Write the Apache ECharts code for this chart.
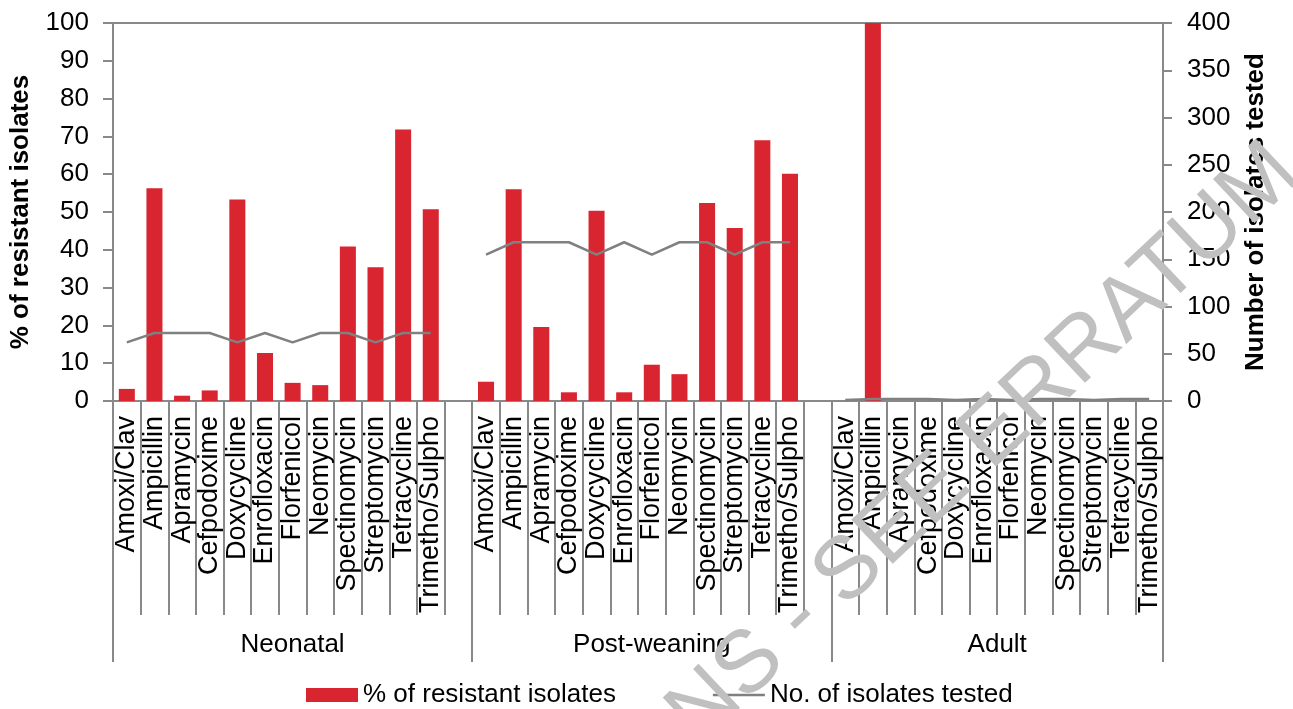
<!DOCTYPE html>
<html>
<head>
<meta charset="utf-8">
<script src="https://cdn.jsdelivr.net/npm/echarts@6/dist/echarts.min.js"></script>
<style>
html,body{margin:0;padding:0;background:#fff;}
#chart{width:1293px;height:709px;}
</style>
</head>
<body>
<div id="chart"></div>
<script>
// ---- data ----
var antibiotics = ['Amoxi/Clav','Ampicillin','Apramycin','Cefpodoxime','Doxycycline','Enrofloxacin','Florfenicol','Neomycin','Spectinomycin','Streptomycin','Tetracycline','Trimetho/Sulpho'];
var groups = ['Neonatal','Post-weaning','Adult'];
var neonatalPct    = [3.2, 56.3, 1.4, 2.8, 53.3, 12.7, 4.8, 4.2, 40.9, 35.4, 71.8, 50.7];
var postWeaningPct = [5.1, 56.0, 19.6, 2.3, 50.3, 2.3, 9.6, 7.1, 52.4, 45.8, 69.0, 60.1];
var adultPct       = [0, 100, 0, 0, 0, 0, 0, 0, 0, 0, 0, 0];
var neonatalN      = [62, 72, 72, 72, 62, 72, 62, 72, 72, 62, 72, 72];
var postWeaningN   = [155, 168, 168, 168, 155, 168, 155, 168, 168, 155, 168, 168];
var adultN         = [1, 2, 2, 2, 1, 2, 1, 2, 2, 1, 2, 2];
var leftTicks = {min: 0, max: 100, interval: 10};
var rightTicks = {min: 0, max: 400, interval: 50};

// ---- build flat category axis with a gap between groups ----
var cats = [], pct = [], num = [];
var groupBounds = [], groupCenters = [];
var pctGroups = [neonatalPct, postWeaningPct, adultPct];
var numGroups = [neonatalN, postWeaningN, adultN];
for (var g = 0; g < groups.length; g++) {
  var start = cats.length;
  groupBounds.push(start);
  for (var i = 0; i < antibiotics.length; i++) {
    cats.push(antibiotics[i]);
    pct.push(pctGroups[g][i]);
    num.push(numGroups[g][i]);
  }
  if (g < groups.length - 1) { cats.push(''); pct.push(null); num.push(null); }
  groupCenters.push((start + cats.length) / 2);
}
groupBounds.push(cats.length);

var FONT = "'Liberation Sans', Arial, sans-serif";
var GREY = '#898989';
var chart = echarts.init(document.getElementById('chart'), null, {renderer: 'canvas'});
var option = {
  animation: false,
  textStyle: {fontFamily: FONT},
  grid: {left: 110, right: 130, top: 23, bottom: 308, show: true, borderColor: GREY, borderWidth: 2},
  legend: {
    left: 301, top: 677,
    itemWidth: 52, itemHeight: 14, itemGap: 97,
    textStyle: {fontSize: 26, color: '#000', fontFamily: FONT},
    data: [
      {name: '% of resistant isolates', icon: 'rect'},
      {name: 'No. of isolates tested', icon: 'path://M0,0L52,0L52,2.5L0,2.5Z'}
    ]
  },
  xAxis: [
    {
      type: 'category', data: cats, position: 'bottom',
      axisLine: {show: true, lineStyle: {color: GREY, width: 2}},
      axisTick: {show: true, interval: 0, length: 214, lineStyle: {color: GREY, width: 2}},
      axisLabel: {interval: 0, rotate: 90, margin: 15, fontSize: 27, color: '#000', fontFamily: FONT},
      splitLine: {show: false}
    },
    {
      type: 'value', min: 0, max: cats.length, position: 'bottom',
      axisLine: {show: false},
      axisTick: {show: true, customValues: groupBounds, length: 261, inside: false, lineStyle: {color: GREY, width: 2}},
      axisLabel: {
        show: true, customValues: groupCenters, margin: 231, fontSize: 26, color: '#000', fontFamily: FONT,
        formatter: function (v) {
          for (var k = 0; k < groupCenters.length; k++) { if (Math.abs(groupCenters[k] - v) < 1e-6) return groups[k]; }
          return '';
        }
      },
      splitLine: {show: false}
    }
  ],
  yAxis: [
    {
      type: 'value', min: leftTicks.min, max: leftTicks.max, interval: leftTicks.interval, position: 'left',
      name: '% of resistant isolates', nameLocation: 'middle', nameGap: 79,
      nameTextStyle: {fontSize: 26, fontWeight: 'bold', color: '#000', fontFamily: FONT},
      axisLine: {show: true, lineStyle: {color: GREY, width: 2}},
      axisTick: {show: true, length: 10, lineStyle: {color: GREY, width: 2}},
      axisLabel: {fontSize: 26, color: '#000', margin: 24, fontFamily: FONT},
      splitLine: {show: false}
    },
    {
      type: 'value', min: rightTicks.min, max: rightTicks.max, interval: rightTicks.interval, position: 'right',
      name: 'Number of isolates tested', nameLocation: 'middle', nameGap: 80,
      nameTextStyle: {fontSize: 26, fontWeight: 'bold', color: '#000', fontFamily: FONT},
      axisLine: {show: true, lineStyle: {color: GREY, width: 2}},
      axisTick: {show: true, length: 9, lineStyle: {color: GREY, width: 2}},
      axisLabel: {fontSize: 26, color: '#000', margin: 24, fontFamily: FONT},
      splitLine: {show: false}
    }
  ],
  series: [
    {
      name: '% of resistant isolates', type: 'bar', xAxisIndex: 0, yAxisIndex: 0,
      data: pct, barCategoryGap: '42%',
      itemStyle: {color: '#d92530'}
    },
    {
      name: 'No. of isolates tested', type: 'line', xAxisIndex: 0, yAxisIndex: 1,
      data: num, symbol: 'none', showSymbol: false, connectNulls: false,
      lineStyle: {color: '#808080', width: 2.5}, itemStyle: {color: '#808080'}, z: 5
    }
  ],
  graphic: [
    {
      type: 'text', x: 1286, y: 160, rotation: 43.3 * Math.PI / 180, silent: true, z: 100,
      style: {text: 'CORRECTIONS - SEE ERRATUM', font: '88px ' + FONT, fill: '#c0c0c0', align: 'right', verticalAlign: 'middle'}
    }
  ]
};
chart.setOption(option);
</script>
</body>
</html>
